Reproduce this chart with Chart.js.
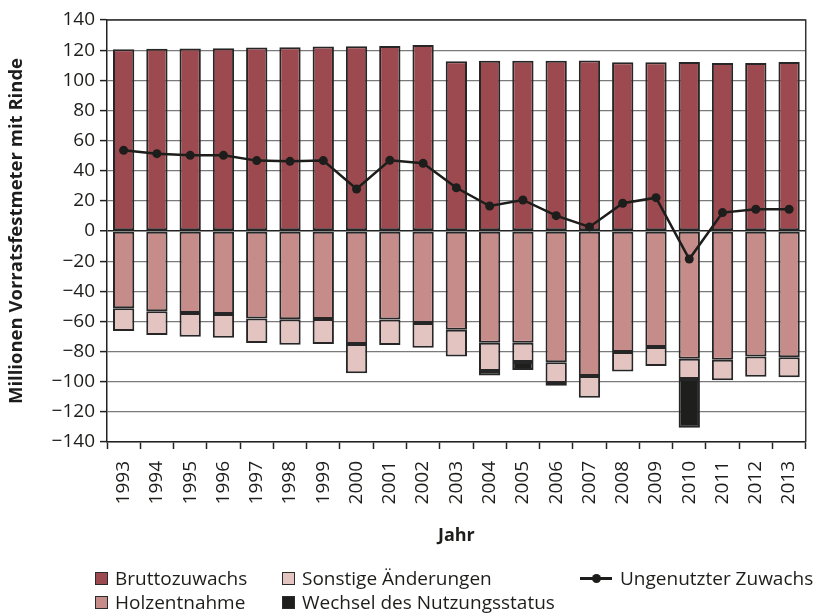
<!DOCTYPE html>
<html>
<head>
<meta charset="utf-8">
<script src="https://cdn.jsdelivr.net/npm/chart.js@4/dist/chart.umd.min.js"></script>
<style>
  html, body { margin: 0; padding: 0; background: #fff; }
  #wrap { position: relative; width: 824px; height: 616px; }
  #legend { position: absolute; left: 0; top: 0; width: 824px; height: 616px; pointer-events: none;
            font-family: 'Open Sans', sans-serif; font-size: 19px; color: #1d1d1b; }
  .item { position: absolute; display: flex; align-items: center; white-space: nowrap; height: 22px; }
  .box { width: 11px; height: 11px; border: 1px solid #2b2b2b; margin-right: 7px; }
  .lineMark { position: relative; width: 32px; height: 22px; margin-right: 8px; }
  .lineMark::before { content: ''; position: absolute; left: 0; right: 0; top: 10px; height: 3px; background: #1d1d1b; }
  .lineMark::after { content: ''; position: absolute; left: 12px; top: 7px; width: 9px; height: 9px; border-radius: 50%; background: #1d1d1b; }
</style>
</head>
<body>
<div id="wrap">
  <canvas id="chart" width="824" height="616"></canvas>
  <div id="legend"></div>
</div>
<script>
// Jahre
const years = ['1993', '1994', '1995', '1996', '1997', '1998', '1999', '2000', '2001', '2002', '2003',
               '2004', '2005', '2006', '2007', '2008', '2009', '2010', '2011', '2012', '2013'];

// Millionen Vorratsfestmeter mit Rinde
const bruttozuwachs = [120.6, 120.9, 121.1, 121.3, 121.7, 122.0, 122.4, 122.6, 122.8, 123.4, 112.6,
                       113.0, 113.0, 113.0, 113.2, 111.9, 111.9, 112.1, 111.5, 111.5, 112.1];
const holzentnahme = [-51.3, -53.3, -54.4, -55.1, -58.0, -58.6, -58.4, -75.0, -58.8, -61.0, -65.5,
                      -74.1, -74.1, -87.1, -96.2, -80.3, -77.0, -84.7, -85.4, -83.2, -83.8];
const sonstigeAenderungen = [-15.1, -15.7, -15.7, -15.7, -16.3, -16.8, -16.6, -19.4, -16.8, -16.4, -17.7,
                             -18.8, -12.8, -13.8, -14.4, -13.0, -12.6, -13.5, -13.7, -13.5, -13.3];
const wechselNutzungsstatus = [null, null, null, null, null, null, null, null, null, null, null,
                               -2.9, -5.3, -1.7, null, null, null, -32.3, null, null, null];
const ungenutzterZuwachs = [53.5, 51.3, 50.2, 50.2, 46.7, 46.2, 46.7, 27.9, 46.9, 44.9, 28.7,
                            16.6, 20.6, 10.2, 2.7, 18.4, 22.1, -18.6, 12.2, 14.4, 14.4];

const yTicks = [-140, -120, -100, -80, -60, -40, -20, 0, 20, 40, 60, 80, 100, 120, 140];

const COLORS = {
    brutto: '#9c4a50',
    holz: '#c68c8a',
    sonst: '#e3c4c1',
    wechsel: '#1e1e1c',
    line: '#1d1d1b',
    border: '#262626',
    grid: '#7a7a7a',
    axis: '#222222'
};

const FONT = "'Open Sans', sans-serif";

function barSet(label, data, color) {
    return {
        type: 'bar',
        label,
        data,
        backgroundColor: color,
        borderColor: COLORS.border,
        borderWidth: 2,
        borderSkipped: false,
        barPercentage: 0.64,
        categoryPercentage: 1,
        stack: 'bilanz',
        order: 1
    };
}

// Rahmen oben und rechts
const framePlugin = {
    id: 'frame',
    afterDatasetsDraw(chart) {
        const { ctx, chartArea: a } = chart;
        ctx.save();
        ctx.strokeStyle = '#333';
        ctx.lineWidth = 1.5;
        ctx.beginPath();
        ctx.moveTo(a.left, a.top);
        ctx.lineTo(a.right, a.top);
        ctx.lineTo(a.right, a.bottom);
        ctx.stroke();
        ctx.restore();
    }
};

const chart = new Chart(document.getElementById('chart').getContext('2d'), {
    data: {
        labels: years,
        datasets: [
            barSet('Bruttozuwachs', bruttozuwachs, COLORS.brutto),
            barSet('Holzentnahme', holzentnahme, COLORS.holz),
            barSet('Sonstige Änderungen', sonstigeAenderungen, COLORS.sonst),
            barSet('Wechsel des Nutzungsstatus', wechselNutzungsstatus, COLORS.wechsel),
            {
                type: 'line',
                label: 'Ungenutzter Zuwachs',
                data: ungenutzterZuwachs,
                borderColor: COLORS.line,
                backgroundColor: COLORS.line,
                borderWidth: 2.5,
                pointRadius: 4.5,
                pointBorderWidth: 0,
                tension: 0,
                stack: 'linie',
                order: 0
            }
        ]
    },
    options: {
        responsive: false,
        animation: false,
        layout: { padding: { top: 20, right: 3, left: 0, bottom: 69 } },
        plugins: {
            legend: { display: false },
            tooltip: { enabled: false }
        },
        scales: {
            x: {
                stacked: true,
                offset: true,
                grid: {
                    offset: true,
                    drawOnChartArea: false,
                    drawTicks: true,
                    tickLength: 7,
                    tickColor: COLORS.axis,
                    tickWidth: 1.5
                },
                border: { color: COLORS.axis, width: 1.5 },
                ticks: {
                    color: '#1d1d1b',
                    font: { family: FONT, size: 19 },
                    minRotation: 90,
                    maxRotation: 90,
                    padding: 12,
                    autoSkip: false
                },
                title: {
                    display: true,
                    text: 'Jahr',
                    color: '#1d1d1b',
                    font: { family: FONT, size: 18, weight: 'bold' },
                    padding: { top: 4, bottom: 0 }
                },
                afterFit(scale) { scale.height = 105; }
            },
            y: {
                stacked: true,
                min: -140,
                max: 140,
                afterBuildTicks(scale) { scale.ticks = yTicks.map(v => ({ value: v })); },
                grid: {
                    color: ctx => ctx.tick && ctx.tick.value === 0 ? COLORS.axis : COLORS.grid,
                    lineWidth: ctx => ctx.tick && ctx.tick.value === 0 ? 1.5 : 1.2,
                    drawTicks: true,
                    tickLength: 7,
                    tickColor: COLORS.axis,
                    tickWidth: 1.5
                },
                border: { color: COLORS.axis, width: 1.5 },
                ticks: {
                    color: '#1d1d1b',
                    font: { family: FONT, size: 19 },
                    padding: 5,
                    callback: v => (v < 0 ? '\u2212' + Math.abs(v) : String(v))
                },
                title: {
                    display: true,
                    text: 'Millionen Vorratsfestmeter mit Rinde',
                    color: '#1d1d1b',
                    font: { family: FONT, size: 18.5, weight: 'bold' },
                    padding: { top: 6, bottom: 0 }
                },
                afterFit(scale) { scale.width = 107; }
            }
        }
    },
    plugins: [framePlugin]
});

// Legende (HTML, drei Spalten wie im Original)
const legendSlots = [
    { ds: 0, x: 95, y: 567 },
    { ds: 1, x: 95, y: 591 },
    { ds: 2, x: 282, y: 567 },
    { ds: 3, x: 282, y: 591 },
    { ds: 4, x: 580, y: 567 }
];
const legendEl = document.getElementById('legend');
legendSlots.forEach(slot => {
    const ds = chart.data.datasets[slot.ds];
    const item = document.createElement('div');
    item.className = 'item';
    item.style.left = slot.x + 'px';
    item.style.top = slot.y + 'px';
    const mark = document.createElement('span');
    if (ds.type === 'line') {
        mark.className = 'lineMark';
    } else {
        mark.className = 'box';
        mark.style.background = ds.backgroundColor;
    }
    const text = document.createElement('span');
    text.textContent = ds.label;
    item.appendChild(mark);
    item.appendChild(text);
    legendEl.appendChild(item);
});
</script>
</body>
</html>
